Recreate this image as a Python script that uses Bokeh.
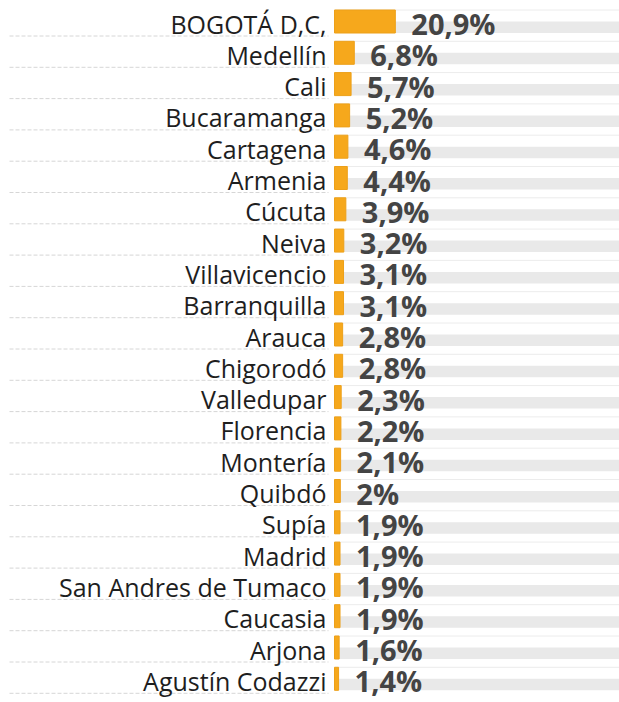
from bokeh.plotting import figure
from bokeh.models import Range1d, ColumnDataSource
from bokeh.core.properties import value
from bokeh.embed import file_html
from bokeh.resources import INLINE

cities = ["BOGOTÁ D,C,", "Medellín", "Cali", "Bucaramanga", "Cartagena", "Armenia",
          "Cúcuta", "Neiva", "Villavicencio", "Barranquilla", "Arauca", "Chigorodó",
          "Valledupar", "Florencia", "Montería", "Quibdó", "Supía", "Madrid",
          "San Andres de Tumaco", "Caucasia", "Arjona", "Agustín Codazzi"]
shares = [20.9, 6.8, 5.7, 5.2, 4.6, 4.4, 3.9, 3.2, 3.1, 3.1, 2.8, 2.8,
          2.3, 2.2, 2.1, 2.0, 1.9, 1.9, 1.9, 1.9, 1.6, 1.4]

def fmt(v):
    s = ("%.1f" % v).rstrip("0").rstrip(".")
    return s.replace(".", ",") + "%"

labels = [fmt(v) for v in shares]

W, H = 619, 702
PX_PER_UNIT = 2.91
BAR_X0 = 334          # frame px where bars start
ROW_PX = 31.3
TOP_PX = 21

n = len(cities)
ys = [n - 1 - i for i in range(n)]
x_start = -BAR_X0 / PX_PER_UNIT
x_end = (W - BAR_X0) / PX_PER_UNIT
y_end = (n - 1) + TOP_PX / ROW_PX
y_start = y_end - H / ROW_PX

p = figure(width=W, height=H, output_backend="svg", toolbar_location=None,
           x_range=Range1d(x_start, x_end), y_range=Range1d(y_start, y_end),
           min_border=0)
p.axis.visible = False
p.grid.visible = False
p.outline_line_color = None
p.background_fill_color = "white"

bh = 23 / ROW_PX
src = ColumnDataSource(dict(y=ys, v=shares, city=cities, lab=labels,
                            top=[y + bh / 2 for y in ys],
                            trk=[y - bh / 4 for y in ys],
                            dash=[y - bh / 2 - 3 / ROW_PX for y in ys],
                            ty=[y - 2 / ROW_PX for y in ys]))

# background track (lower half of each row)
p.hbar(y="trk", left=0, right=x_end, height=bh / 2, source=src,
       fill_color="#e9e9e9", line_color=None)
# light line at top of each row
p.segment(x0=0, x1=x_end, y0="top", y1="top", source=src,
          line_color="#ececec", line_width=1)

# dashed separators on the left
p.segment(x0=x_start + 9 / PX_PER_UNIT, x1=-6 / PX_PER_UNIT, y0="dash", y1="dash",
          source=src, line_color="#d6d6d6", line_width=1, line_dash="4 2")

# orange bars
p.hbar(y="y", left=0, right="v", height=bh, source=src,
       fill_color="#f6a81c", line_color="#eda019", line_width=1)

# category labels
p.text(x=0, y="ty", text="city", source=src, x_offset=-8,
       text_align="right", text_baseline="middle",
       text_font=value("Open Sans"), text_font_size="25px", text_color="#1e1e1e")

# value labels
p.text(x="v", y="ty", text="lab", source=src, x_offset=16,
       text_align="left", text_baseline="middle",
       text_font=value("Open Sans"), text_font_style="bold",
       text_font_size="29px", text_color="#444444")

open("out.html", "w").write(file_html(p, INLINE))
